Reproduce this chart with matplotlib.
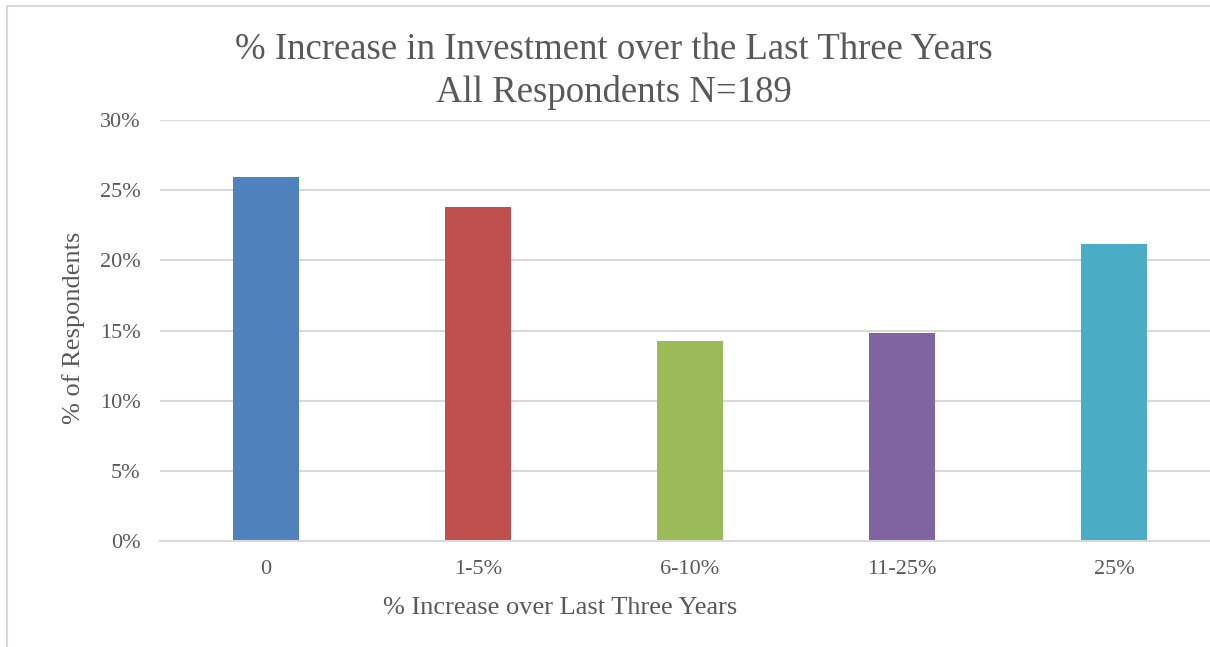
import numpy as np
import matplotlib.pyplot as plt
from matplotlib.patches import Rectangle

# Survey results: share of respondents per investment-increase bracket
categories = ['0', '1-5%', '6-10%', '11-25%', '25%']
respondents = [49, 45, 27, 28, 40]
n_total = 189
shares = [100 * r / n_total for r in respondents]
colors = ['#4F81BD', '#C0504D', '#9BBB59', '#8064A2', '#4BACC6']

plt.rcParams['font.family'] = ['Liberation Serif', 'DejaVu Serif']
text_gray = '#595959'
grid_gray = '#D9D9D9'

W, H = 1210, 647
fig = plt.figure(figsize=(W / 100, H / 100), dpi=100)

# plot area in pixels (left, bottom, width, height); the right side runs past the frame
ax = fig.add_axes([160 / W, (H - 541) / H, 1060 / W, 421 / H])

x = np.arange(len(categories))
ax.bar(x, shares, width=0.316, color=colors, zorder=3)

ax.set_xlim(-0.5, len(categories) - 0.5)
ax.set_ylim(0, 30)
ax.set_yticks(np.arange(0, 31, 5))
ax.set_yticklabels([f'{v}%' for v in range(0, 31, 5)])
ax.set_xticks(x)
ax.set_xticklabels(categories)

ax.grid(axis='y', color=grid_gray, linewidth=1.5, zorder=0)
for side in ['top', 'right', 'left']:
    ax.spines[side].set_visible(False)
ax.spines['bottom'].set_color(grid_gray)
ax.spines['bottom'].set_linewidth(1.5)
ax.spines['bottom'].set_zorder(4)
ax.tick_params(axis='both', length=0, labelsize=16, labelcolor=text_gray)
ax.tick_params(axis='y', pad=14)
ax.tick_params(axis='x', pad=14)

# axis titles
fig.text(74 / W, 1 - 328 / H, '% of Respondents', rotation=90,
         ha='center', va='center', fontsize=19, color=text_gray)
fig.text(560 / W, 1 - 608 / H, '% Increase over Last Three Years',
         ha='center', va='center', fontsize=19, color=text_gray)

fig.text(614 / W, 1 - 50 / H, '% Increase in Investment over the Last Three Years',
         ha='center', va='center', fontsize=26.5, color=text_gray)
fig.text(614 / W, 1 - 93 / H, 'All Respondents N=189',
         ha='center', va='center', fontsize=26.5, color=text_gray)

# chart frame
fig.patches.append(Rectangle((7 / W, -0.1), 1.2, 1 - 6 / H + 0.1,
                             transform=fig.transFigure, fill=False,
                             edgecolor=grid_gray, linewidth=1.5))

fig.savefig('out.png', dpi=100)
